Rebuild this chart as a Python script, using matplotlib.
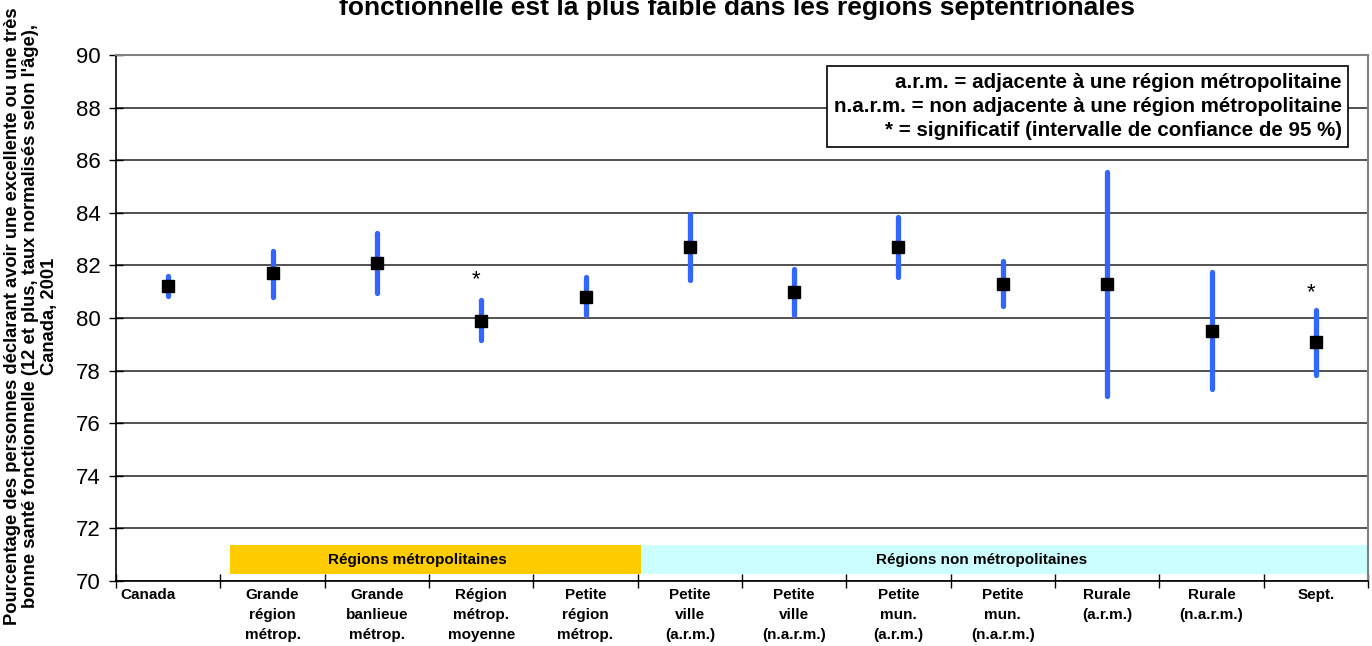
import matplotlib
matplotlib.use("Agg")
import matplotlib.pyplot as plt
from matplotlib.patches import Rectangle
from matplotlib.transforms import ScaledTranslation

plt.rcParams["font.family"] = ["Liberation Sans", "DejaVu Sans"]

categories = [
    "Canada",
    "Grande\nrégion\nmétrop.",
    "Grande\nbanlieue\nmétrop.",
    "Région\nmétrop.\nmoyenne",
    "Petite\nrégion\nmétrop.",
    "Petite\nville\n(a.r.m.)",
    "Petite\nville\n(n.a.r.m.)",
    "Petite\nmun.\n(a.r.m.)",
    "Petite\nmun.\n(n.a.r.m.)",
    "Rurale\n(a.r.m.)",
    "Rurale\n(n.a.r.m.)",
    "Sept.",
]
estimates = [81.2, 81.7, 82.1, 79.9, 80.8, 82.7, 81.0, 82.7, 81.3, 81.3, 79.5, 79.1]
lower = [80.85, 80.8, 80.95, 79.15, 80.1, 81.45, 80.1, 81.55, 80.45, 77.05, 77.3, 77.85]
upper = [81.6, 82.55, 83.25, 80.7, 81.55, 83.95, 81.85, 83.85, 82.15, 85.55, 81.75, 80.3]
significant = [False, False, False, True, False, False, False, False, False, False, False, True]
star_y = [None, None, None, 81.25, None, None, None, None, None, None, None, 80.75]

legend_lines = [
    "a.r.m. = adjacente à une région métropolitaine",
    "n.a.r.m. = non adjacente à une région métropolitaine",
    "* = significatif (intervalle de confiance de 95 %)",
]

fig = plt.figure(figsize=(13.72, 6.46), dpi=100)
ax = fig.add_axes([116 / 1372, 1 - 581 / 646, (1368 - 116) / 1372, (581 - 55) / 646])

x = list(range(len(categories)))

# region bands along the bottom
ax.add_patch(Rectangle((0.59, 70.25), 4.53 - 0.59, 1.1, facecolor="#FFCC00",
                       edgecolor="none", zorder=1))
ax.add_patch(Rectangle((4.53, 70.27), 11.5 - 4.53, 1.08, facecolor="#CCFFFF",
                       edgecolor="none", zorder=1))
ax.text(2.39, 70.8, "Régions métropolitaines", ha="center", va="center",
        fontsize=11, fontweight="bold", zorder=2)
ax.text(7.80, 70.8, "Régions non métropolitaines", ha="center", va="center",
        fontsize=11, fontweight="bold", zorder=2)

# confidence intervals and estimates
ax.vlines(x, lower, upper, colors="#3366FF", linewidth=3.8, capstyle="round", zorder=3)
ax.plot(x, estimates, linestyle="none", marker="s", markersize=8,
        color="black", zorder=4)

for xi, sig, sy in zip(x, significant, star_y):
    if sig:
        ax.text(xi - 0.05, sy, "*", ha="center", va="baseline", fontsize=16, zorder=4)

ax.set_xlim(-0.5, 11.5)
ax.set_ylim(70, 90)
ax.set_yticks(range(70, 91, 2))
ax.tick_params(axis="y", labelsize=16, direction="inout", length=10, width=1, pad=6)
ax.set_xticks([i + 0.5 for i in range(-1, 12)])
ax.set_xticklabels([])
ax.set_xticks(x, minor=True)
ax.set_xticklabels(categories, minor=True, fontsize=11, fontweight="bold",
                   linespacing=1.55, va="top")
ax.tick_params(axis="x", which="major", direction="inout", length=10, width=1)
ax.tick_params(axis="x", which="minor", length=0, pad=5)

# "Canada" sits left of its category in the original
canada_label = ax.xaxis.get_minorticklabels()[0]
canada_label.set_transform(canada_label.get_transform()
                           + ScaledTranslation(-0.2, 0, fig.dpi_scale_trans))

ax.yaxis.grid(True, color="#333333", linewidth=1.2)
ax.set_axisbelow(True)
for side in ("top", "right"):
    ax.spines[side].set_color("#808080")
    ax.spines[side].set_linewidth(1.5)
for side in ("left", "bottom"):
    ax.spines[side].set_color("black")
    ax.spines[side].set_linewidth(1.2)

# legend box
ax.text(0.979, 0.966, "\n".join(legend_lines), transform=ax.transAxes,
        ha="right", va="top", fontsize=14.8, fontweight="bold", linespacing=1.33,
        multialignment="right", zorder=6,
        bbox=dict(boxstyle="square,pad=0.33", facecolor="white",
                  edgecolor="black", linewidth=1.2))

fig.text(31 / 1372, 1 - 316 / 646,
         "Pourcentage des personnes déclarant avoir une excellente ou une très\n"
         "bonne santé fonctionnelle (12 et plus, taux normalisés selon l'âge),\n"
         "Canada, 2001",
         rotation=90, ha="center", va="center", multialignment="center",
         fontsize=13.2, fontweight="bold", linespacing=1.1)

fig.text(737 / 1372, 1 - 15 / 646,
         "fonctionnelle est la plus faible dans les régions septentrionales",
         ha="center", va="baseline", fontsize=19, fontweight="bold")

fig.savefig("out.png", dpi=100)
